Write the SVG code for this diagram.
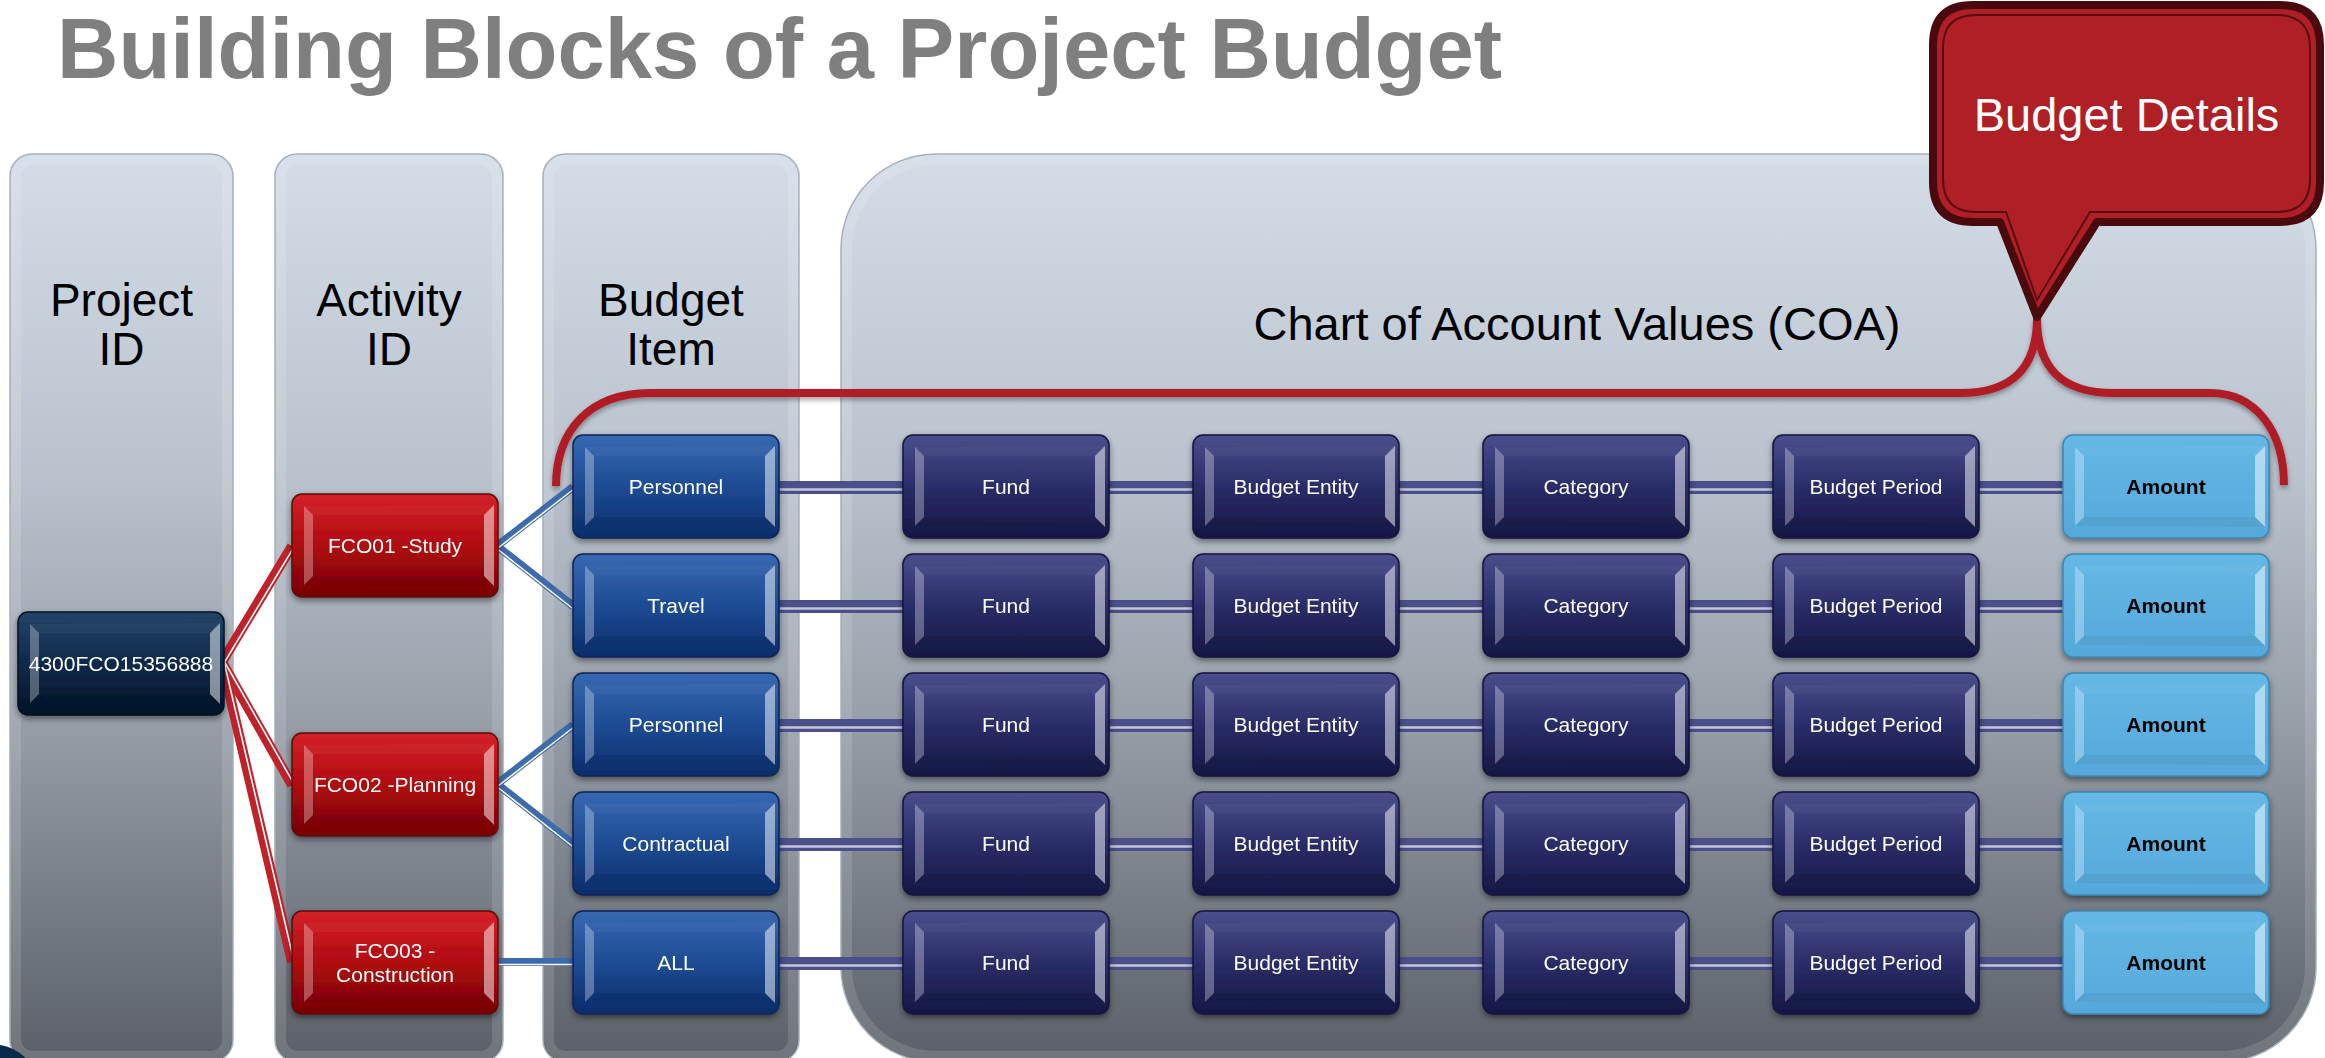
<svg xmlns="http://www.w3.org/2000/svg" xmlns:xlink="http://www.w3.org/1999/xlink" width="2325" height="1058" viewBox="0 0 2325 1058">
<defs>
<style>
.t{font-family:"Liberation Sans",Arial,Helvetica,sans-serif}
.title{font-size:85px;font-weight:bold;fill:#7f7f7f}
.head{font-size:46px;fill:#000;text-anchor:middle}
.lbl{font-size:21px;fill:#fff;text-anchor:middle}
.amt{font-size:21px;fill:#000;font-weight:bold;text-anchor:middle}
.panel{fill:url(#gPanel);stroke:#a7b1bb;stroke-width:1.5}
.rim{fill:none;stroke:#ffffff;stroke-opacity:0.13;stroke-width:10}
.box{stroke-width:1.5}
.red{fill:url(#gRed);stroke:#5c0a0a}
.blue{fill:url(#gBlue);stroke:#0c2556}
.navy{fill:url(#gNavy);stroke:#14163c}
.proj{fill:url(#gProj);stroke:#021020}
.amtb{fill:url(#gAmt);stroke:#3d86b2}
.node{filter:url(#sh)}
.rc1{stroke:#c0222a;stroke-width:10;fill:none}
.rc2{stroke:#ffffff;stroke-width:1.6;fill:none}
.bc1{stroke:#3d6bab;stroke-width:8;fill:none}
.bc2{stroke:#ffffff;stroke-width:1.5;fill:none}
.nc1{stroke:#4b4f8a;stroke-width:13;fill:none}
.nc2{stroke:#c3c7da;stroke-width:2.5;fill:none}
</style>
<linearGradient id="gPanel" gradientUnits="userSpaceOnUse" x1="0" y1="154" x2="0" y2="1062">
<stop offset="0" stop-color="#d3dde7"/><stop offset="0.35" stop-color="#bac3cd"/><stop offset="0.6" stop-color="#9aa2ac"/><stop offset="1" stop-color="#5b6068"/>
</linearGradient>
<linearGradient id="gRed" x1="0" y1="0" x2="0" y2="1"><stop offset="0" stop-color="#d42228"/><stop offset="0.5" stop-color="#b00a10"/><stop offset="1" stop-color="#760204"/></linearGradient>
<linearGradient id="gBlue" x1="0" y1="0" x2="0" y2="1"><stop offset="0" stop-color="#3868b2"/><stop offset="0.5" stop-color="#1d4c94"/><stop offset="1" stop-color="#0b2c6a"/></linearGradient>
<linearGradient id="gNavy" x1="0" y1="0" x2="0" y2="1"><stop offset="0" stop-color="#4a4e8c"/><stop offset="0.5" stop-color="#2a2d68"/><stop offset="1" stop-color="#151744"/></linearGradient>
<linearGradient id="gProj" x1="0" y1="0" x2="0" y2="1"><stop offset="0" stop-color="#244468"/><stop offset="0.5" stop-color="#0e2a4a"/><stop offset="1" stop-color="#031326"/></linearGradient>
<linearGradient id="gAmt" x1="0" y1="0" x2="0" y2="1"><stop offset="0" stop-color="#64b8e5"/><stop offset="1" stop-color="#55a9da"/></linearGradient>
<filter id="sh" x="-10%" y="-10%" width="120%" height="130%"><feDropShadow dx="0" dy="3" stdDeviation="3" flood-color="#000" flood-opacity="0.45"/></filter>
<filter id="sh2" x="-5%" y="-5%" width="110%" height="120%"><feDropShadow dx="0" dy="3" stdDeviation="2.5" flood-color="#000" flood-opacity="0.35"/></filter>
<g id="bevel">
<path d="M12 12 L21 21 L21 82 L12 91 Z" fill="#fff" fill-opacity="0.3"/>
<path d="M192 21 L202 11 L202 92 L192 82 Z" fill="#fff" fill-opacity="0.5"/>
<path d="M12 12 L202 11 L192 21 L21 21 Z" fill="#fff" fill-opacity="0.035"/>
<path d="M21 82 L192 82 L202 92 L12 91 Z" fill="#000" fill-opacity="0.05"/>
</g>
</defs>
<rect width="2325" height="1058" fill="#ffffff"/>
<text class="t title" x="57" y="78">Building Blocks of a Project Budget</text>

<g id="panel-project">
<rect class="panel" x="10" y="154" width="223" height="908" rx="22"/>
<rect class="rim" x="16" y="160" width="211" height="896" rx="17"/>
<text class="t head" x="121.5" y="316">Project</text>
<text class="t head" x="121.5" y="365">ID</text>
</g>
<g id="panel-activity">
<rect class="panel" x="275" y="154" width="228" height="908" rx="22"/>
<rect class="rim" x="281" y="160" width="216" height="896" rx="17"/>
<text class="t head" x="389" y="316">Activity</text>
<text class="t head" x="389" y="365">ID</text>
</g>
<g id="panel-budgetitem">
<rect class="panel" x="543" y="154" width="256" height="908" rx="22"/>
<rect class="rim" x="549" y="160" width="244" height="896" rx="17"/>
<text class="t head" x="671" y="316">Budget</text>
<text class="t head" x="671" y="365">Item</text>
</g>
<g id="panel-coa">
<rect class="panel" x="841" y="154" width="1475" height="908" rx="95"/>
<rect class="rim" x="847" y="160" width="1463" height="896" rx="89"/>
<text class="t head" x="1577" y="340" style="font-size:47px">Chart of Account Values (COA)</text>
</g>
<path id="corner-deco" d="M0 1045 Q14 1047 26 1058 L0 1058 Z" fill="#0b2a4a"/>

<g id="connectors">
<g id="red-links">
<path class="rc1" d="M222 662 L292 546 M222 662 L292 785 M222 662 L292 962"/>
<path class="rc2" d="M224 663 L294 547 M224 661 L294 784 M224 661.5 L294 961.5"/>
</g>
<g id="blue-links">
<path class="bc1" d="M497 546 L573 487 M497 546 L573 606 M497 784 L573 725 M497 784 L573 844 M497 962 L573 962"/>
<path class="bc2" d="M498 548 L574 489 M496 548 L572 608 M498 786 L574 727 M496 786 L572 846 M497 964.5 L573 964.5"/>
</g>
<g id="row-links">
<path class="nc1" d="M779 487.5 H903 M1109 487.5 H1193 M1399 487.5 H1483 M1689 487.5 H1773 M1979 487.5 H2063
M779 606.5 H903 M1109 606.5 H1193 M1399 606.5 H1483 M1689 606.5 H1773 M1979 606.5 H2063
M779 725.5 H903 M1109 725.5 H1193 M1399 725.5 H1483 M1689 725.5 H1773 M1979 725.5 H2063
M779 844.5 H903 M1109 844.5 H1193 M1399 844.5 H1483 M1689 844.5 H1773 M1979 844.5 H2063
M779 963.5 H903 M1109 963.5 H1193 M1399 963.5 H1483 M1689 963.5 H1773 M1979 963.5 H2063"/>
<path class="nc2" d="M779 489.5 H903 M1109 489.5 H1193 M1399 489.5 H1483 M1689 489.5 H1773 M1979 489.5 H2063
M779 608.5 H903 M1109 608.5 H1193 M1399 608.5 H1483 M1689 608.5 H1773 M1979 608.5 H2063
M779 727.5 H903 M1109 727.5 H1193 M1399 727.5 H1483 M1689 727.5 H1773 M1979 727.5 H2063
M779 846.5 H903 M1109 846.5 H1193 M1399 846.5 H1483 M1689 846.5 H1773 M1979 846.5 H2063
M779 965.5 H903 M1109 965.5 H1193 M1399 965.5 H1483 M1689 965.5 H1773 M1979 965.5 H2063"/>
</g>
</g>

<g id="bracket" filter="url(#sh2)">
<path d="M556 486 C556 430 590 393 650 393 L1960 393 C2012 393 2037 368 2037 318 C2037 368 2062 393 2114 393 L2210 393 C2255 393 2284 430 2284 485" fill="none" stroke="#b01f28" stroke-width="8"/>
</g>

<g id="callout">
<path d="M1973 5 L2280 5 Q2320 5 2320 45 L2320 182 Q2320 222 2280 222 L2097 222 L2037 317 L2000 222 L1973 222 Q1933 222 1933 182 L1933 45 Q1933 5 1973 5 Z" fill="#ae1f26" stroke="#4a0a0d" stroke-width="8" stroke-linejoin="round"/>
<path d="M1976 15 L2277 15 Q2310 15 2310 48 L2310 179 Q2310 212 2277 212 L2090 212 L2037 300 L2006 212 L1976 212 Q1943 212 1943 179 L1943 48 Q1943 15 1976 15 Z" fill="none" stroke="#5a0c10" stroke-width="2"/>
<text class="t" x="2126.5" y="131" text-anchor="middle" style="font-size:47px;fill:#fff">Budget Details</text>
</g>

<g id="n-project" class="node" transform="translate(18,612)"><rect class="box proj" width="206" height="103" rx="10"/><use href="#bevel"/><text class="t lbl" x="103" y="59">4300FCO15356888</text></g>

<g id="n-fco01" class="node" transform="translate(292,494)"><rect class="box red" width="206" height="103" rx="10"/><use href="#bevel"/><text class="t lbl" x="103" y="59">FCO01 -Study</text></g>
<g id="n-fco02" class="node" transform="translate(292,733)"><rect class="box red" width="206" height="103" rx="10"/><use href="#bevel"/><text class="t lbl" x="103" y="59">FCO02 -Planning</text></g>
<g id="n-fco03" class="node" transform="translate(292,911)"><rect class="box red" width="206" height="103" rx="10"/><use href="#bevel"/><text class="t lbl" x="103" y="47">FCO03 -</text><text class="t lbl" x="103" y="71">Construction</text></g>

<g id="n-bi1" class="node" transform="translate(573,435)"><rect class="box blue" width="206" height="103" rx="10"/><use href="#bevel"/><text class="t lbl" x="103" y="59">Personnel</text></g>
<g id="n-bi2" class="node" transform="translate(573,554)"><rect class="box blue" width="206" height="103" rx="10"/><use href="#bevel"/><text class="t lbl" x="103" y="59">Travel</text></g>
<g id="n-bi3" class="node" transform="translate(573,673)"><rect class="box blue" width="206" height="103" rx="10"/><use href="#bevel"/><text class="t lbl" x="103" y="59">Personnel</text></g>
<g id="n-bi4" class="node" transform="translate(573,792)"><rect class="box blue" width="206" height="103" rx="10"/><use href="#bevel"/><text class="t lbl" x="103" y="59">Contractual</text></g>
<g id="n-bi5" class="node" transform="translate(573,911)"><rect class="box blue" width="206" height="103" rx="10"/><use href="#bevel"/><text class="t lbl" x="103" y="59">ALL</text></g>

<g id="n-fund1" class="node" transform="translate(903,435)"><rect class="box navy" width="206" height="103" rx="10"/><use href="#bevel"/><text class="t lbl" x="103" y="59">Fund</text></g>
<g id="n-fund2" class="node" transform="translate(903,554)"><rect class="box navy" width="206" height="103" rx="10"/><use href="#bevel"/><text class="t lbl" x="103" y="59">Fund</text></g>
<g id="n-fund3" class="node" transform="translate(903,673)"><rect class="box navy" width="206" height="103" rx="10"/><use href="#bevel"/><text class="t lbl" x="103" y="59">Fund</text></g>
<g id="n-fund4" class="node" transform="translate(903,792)"><rect class="box navy" width="206" height="103" rx="10"/><use href="#bevel"/><text class="t lbl" x="103" y="59">Fund</text></g>
<g id="n-fund5" class="node" transform="translate(903,911)"><rect class="box navy" width="206" height="103" rx="10"/><use href="#bevel"/><text class="t lbl" x="103" y="59">Fund</text></g>

<g id="n-be1" class="node" transform="translate(1193,435)"><rect class="box navy" width="206" height="103" rx="10"/><use href="#bevel"/><text class="t lbl" x="103" y="59">Budget Entity</text></g>
<g id="n-be2" class="node" transform="translate(1193,554)"><rect class="box navy" width="206" height="103" rx="10"/><use href="#bevel"/><text class="t lbl" x="103" y="59">Budget Entity</text></g>
<g id="n-be3" class="node" transform="translate(1193,673)"><rect class="box navy" width="206" height="103" rx="10"/><use href="#bevel"/><text class="t lbl" x="103" y="59">Budget Entity</text></g>
<g id="n-be4" class="node" transform="translate(1193,792)"><rect class="box navy" width="206" height="103" rx="10"/><use href="#bevel"/><text class="t lbl" x="103" y="59">Budget Entity</text></g>
<g id="n-be5" class="node" transform="translate(1193,911)"><rect class="box navy" width="206" height="103" rx="10"/><use href="#bevel"/><text class="t lbl" x="103" y="59">Budget Entity</text></g>

<g id="n-cat1" class="node" transform="translate(1483,435)"><rect class="box navy" width="206" height="103" rx="10"/><use href="#bevel"/><text class="t lbl" x="103" y="59">Category</text></g>
<g id="n-cat2" class="node" transform="translate(1483,554)"><rect class="box navy" width="206" height="103" rx="10"/><use href="#bevel"/><text class="t lbl" x="103" y="59">Category</text></g>
<g id="n-cat3" class="node" transform="translate(1483,673)"><rect class="box navy" width="206" height="103" rx="10"/><use href="#bevel"/><text class="t lbl" x="103" y="59">Category</text></g>
<g id="n-cat4" class="node" transform="translate(1483,792)"><rect class="box navy" width="206" height="103" rx="10"/><use href="#bevel"/><text class="t lbl" x="103" y="59">Category</text></g>
<g id="n-cat5" class="node" transform="translate(1483,911)"><rect class="box navy" width="206" height="103" rx="10"/><use href="#bevel"/><text class="t lbl" x="103" y="59">Category</text></g>

<g id="n-bp1" class="node" transform="translate(1773,435)"><rect class="box navy" width="206" height="103" rx="10"/><use href="#bevel"/><text class="t lbl" x="103" y="59">Budget Period</text></g>
<g id="n-bp2" class="node" transform="translate(1773,554)"><rect class="box navy" width="206" height="103" rx="10"/><use href="#bevel"/><text class="t lbl" x="103" y="59">Budget Period</text></g>
<g id="n-bp3" class="node" transform="translate(1773,673)"><rect class="box navy" width="206" height="103" rx="10"/><use href="#bevel"/><text class="t lbl" x="103" y="59">Budget Period</text></g>
<g id="n-bp4" class="node" transform="translate(1773,792)"><rect class="box navy" width="206" height="103" rx="10"/><use href="#bevel"/><text class="t lbl" x="103" y="59">Budget Period</text></g>
<g id="n-bp5" class="node" transform="translate(1773,911)"><rect class="box navy" width="206" height="103" rx="10"/><use href="#bevel"/><text class="t lbl" x="103" y="59">Budget Period</text></g>

<g id="n-amt1" class="node" transform="translate(2063,435)"><rect class="box amtb" width="206" height="103" rx="10"/><use href="#bevel"/><text class="t amt" x="103" y="59">Amount</text></g>
<g id="n-amt2" class="node" transform="translate(2063,554)"><rect class="box amtb" width="206" height="103" rx="10"/><use href="#bevel"/><text class="t amt" x="103" y="59">Amount</text></g>
<g id="n-amt3" class="node" transform="translate(2063,673)"><rect class="box amtb" width="206" height="103" rx="10"/><use href="#bevel"/><text class="t amt" x="103" y="59">Amount</text></g>
<g id="n-amt4" class="node" transform="translate(2063,792)"><rect class="box amtb" width="206" height="103" rx="10"/><use href="#bevel"/><text class="t amt" x="103" y="59">Amount</text></g>
<g id="n-amt5" class="node" transform="translate(2063,911)"><rect class="box amtb" width="206" height="103" rx="10"/><use href="#bevel"/><text class="t amt" x="103" y="59">Amount</text></g>
</svg>
